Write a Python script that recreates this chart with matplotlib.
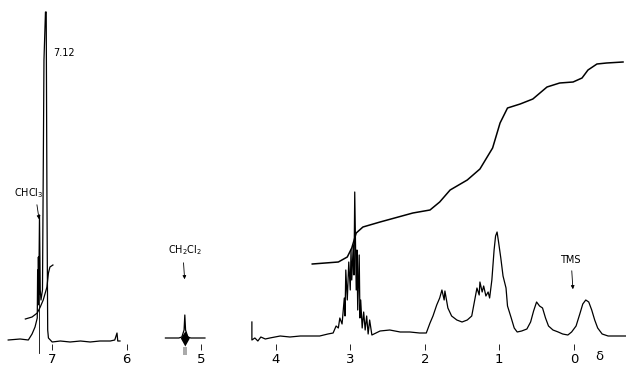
import matplotlib.pyplot as plt
import numpy as np

# 1H NMR trace (delta in ppm, height in recorder units)
arom_ppm = [7.59, 7.43, 7.32, 7.27, 7.23, 7.20, 7.195, 7.19, 7.185, 7.18, 7.17, 7.16, 7.15, 7.13,
            7.11, 7.09, 7.08, 7.07, 7.06, 7.05, 7.00, 6.89, 6.76, 6.62, 6.49, 6.36, 6.22, 6.16,
            6.13, 6.12, 6.09]
arom_int = [0, 1, 0, 6, 13, 22, 70, 35, 83, 45, 125, 50, 40, 50,
            280, 328, 328, 140, 10, 2, -2, -1, -2, -1, -2, -1, -1, 0,
            7, -1, -1]

dcm_ppm = [5.48, 5.30, 5.26, 5.23, 5.22, 5.21, 5.18, 5.14, 4.95]
dcm_int = [2, 2, 3, 10, 25, 10, 3, 2, 2]

aliph_ppm = [4.32, 4.32, 4.28, 4.24, 4.20, 4.14, 4.08, 3.94, 3.81, 3.67, 3.54, 3.41, 3.30, 3.23,
             3.19, 3.16, 3.14, 3.11, 3.08, 3.07, 3.06, 3.04, 3.02, 3.00, 2.99, 2.98, 2.96, 2.95,
             2.94, 2.92, 2.91, 2.90, 2.88, 2.87, 2.86, 2.84, 2.82, 2.80, 2.78, 2.76, 2.74, 2.71,
             2.60, 2.47, 2.33, 2.20, 2.07, 1.98, 1.93, 1.89, 1.84, 1.80, 1.77, 1.74, 1.73, 1.69,
             1.64, 1.57, 1.50, 1.43, 1.37, 1.33, 1.30, 1.27, 1.26, 1.23, 1.21, 1.18, 1.15, 1.13,
             1.10, 1.07, 1.05, 1.03, 1.01, 0.98, 0.95, 0.91, 0.89, 0.84, 0.80, 0.76, 0.70, 0.63,
             0.58, 0.54, 0.50, 0.46, 0.42, 0.38, 0.34, 0.28, 0.21, 0.15, 0.08, 0.03, -0.03, -0.08,
             -0.12, -0.16, -0.20, -0.24, -0.28, -0.32, -0.38, -0.46, -0.55, -0.70]
aliph_int = [18, 0, 2, -1, 3, 1, 2, 4, 3, 4, 4, 4, 6, 7,
             14, 12, 22, 16, 42, 24, 70, 40, 78, 50, 90, 60, 95, 65,
             148, 50, 90, 30, 85, 22, 40, 12, 28, 10, 24, 6, 20, 5,
             9, 10, 8, 8, 7, 7, 17, 24, 35, 42, 50, 40, 49, 32,
             24, 20, 18, 20, 24, 40, 52, 45, 58, 48, 54, 44, 48, 42,
             60, 90, 104, 108, 98, 82, 64, 52, 34, 22, 12, 8, 9, 11,
             18, 29, 38, 34, 32, 22, 14, 10, 8, 6, 5, 8, 14, 26,
             36, 40, 38, 30, 20, 12, 6, 4, 4, 4]

# integral traces
int1_ppm = [7.36, 7.27, 7.20, 7.16, 7.12, 7.07, 7.05, 7.03, 6.99]
int1_val = [21, 23, 27, 33, 40, 53, 67, 73, 75]
int2_ppm = [3.51, 3.16, 3.04, 2.98, 2.92, 2.83, 2.60, 2.16, 1.93, 1.80, 1.66, 1.43, 1.26, 1.09,
            0.99, 0.89, 0.72, 0.55, 0.36, 0.19, 0.01, -0.11, -0.19, -0.31, -0.44, -0.66]
int2_val = [76, 78, 83, 92, 107, 113, 118, 127, 130, 138, 150, 160, 171, 192,
            217, 232, 236, 241, 253, 257, 258, 262, 270, 276, 277, 278]

ticks = [7, 6, 5, 4, 3, 2, 1, 0]

fig = plt.figure(figsize=(6.26, 3.72), dpi=100)
ax = fig.add_axes([0, 22 / 372, 1, 350 / 372])
ax.set_xlim(7.70, -0.70)
ax.set_ylim(-10, 340)

lw = 0.9
ax.plot(arom_ppm, arom_int, color='black', lw=lw, clip_on=False)
ax.plot(dcm_ppm, dcm_int, color='black', lw=lw)
ax.plot(aliph_ppm, aliph_int, color='black', lw=lw)
ax.plot(int1_ppm, int1_val, color='black', lw=lw)
ax.plot(int2_ppm, int2_val, color='black', lw=1.1)

# solvent peak blob and spinning band under CH2Cl2
ax.fill_between([5.28, 5.22, 5.16], [2, 9, 2], [2, -6, 2], color='black', lw=0)
ax.fill_between([5.245, 5.195], [-7, -7], [-15, -15], color='#aaaaaa', lw=0, clip_on=False)

# CHCl3 marker line
ax.plot([7.17, 7.17], [113, -13], color='black', lw=0.6, clip_on=False)

# annotations
ax.annotate('', xy=(7.17, 118), xytext=(7.21, 138),
            arrowprops=dict(arrowstyle='-|>', color='black', lw=0.6, mutation_scale=5))
ax.text(7.51, 147, 'CHCl$_3$', fontsize=7, ha='left', va='center')
ax.text(6.98, 287, '7.12', fontsize=7, ha='left', va='center')
ax.annotate('', xy=(5.22, 58), xytext=(5.24, 80),
            arrowprops=dict(arrowstyle='-|>', color='black', lw=0.6, mutation_scale=5))
ax.text(5.22, 90, 'CH$_2$Cl$_2$', fontsize=7, ha='center', va='center')
ax.annotate('', xy=(0.01, 48), xytext=(0.03, 72),
            arrowprops=dict(arrowstyle='-|>', color='black', lw=0.6, mutation_scale=5))
ax.text(0.05, 80, 'TMS', fontsize=7, ha='center', va='center')
ax.text(-0.34, -17, 'δ', fontsize=9.5, ha='center', va='center', clip_on=False)

ax.set_xticks(ticks)
ax.set_xticklabels([str(t) for t in ticks], fontsize=9.5)
ax.tick_params(axis='x', direction='in', length=4, width=0.6, pad=2)
ax.set_yticks([])
for s in ax.spines.values():
    s.set_visible(False)

fig.savefig('out.png', dpi=100)
